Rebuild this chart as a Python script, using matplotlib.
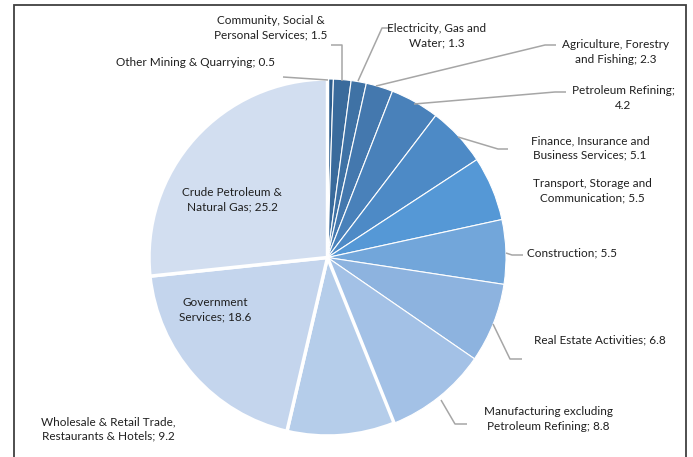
import matplotlib
matplotlib.use("Agg")
import matplotlib.pyplot as plt
from matplotlib.patches import Rectangle
import numpy as np

plt.rcParams["font.family"] = ["Lato", "DejaVu Sans"]

# sectors, clockwise from 12 o'clock
sectors = [
    "Other Mining & Quarrying",
    "Community, Social &\nPersonal Services",
    "Electricity, Gas and\nWater",
    "Agriculture, Forestry\nand Fishing",
    "Petroleum Refining;\n",
    "Finance, Insurance and\nBusiness Services",
    "Transport, Storage and\nCommunication",
    "Construction",
    "Real Estate Activities",
    "Manufacturing excluding\nPetroleum Refining",
    "Wholesale & Retail Trade,\nRestaurants & Hotels",
    "Government\nServices",
    "Crude Petroleum &\nNatural Gas",
]
shares = [0.5, 1.5, 1.3, 2.3, 4.2, 5.1, 5.5, 5.5, 6.8, 8.8, 9.2, 18.6, 25.2]
colors = [
    "#2f5f8f", "#3a6b9c", "#3f72a5", "#4478ae", "#4981ba", "#4d8ac6",
    "#5598d6", "#72a6da", "#8db3df", "#a3c1e6", "#b5cdea", "#c4d5ed",
    "#d2def0",
]

W, H = 693, 457
CX, CY, R = 327.5, H - 257.5, 178.5

# label anchor (px, y from top), alignment, leader path (px) or None
label_pos = [
    (196, 63, "center", [(328, 80), (283, 77)]),
    (271, 28, "center", [(342, 81), (342, 45), (331, 45)]),
    (437, 36, "center", [(358, 81), (382, 28), (392, 28)]),
    (616, 52, "center", [(376, 86), (545, 45), (556, 45)]),
    (623, 98, "center", [(414, 104), (555, 92), (566, 92)]),
    (590, 148, "center", [(458, 137), (498, 149), (508, 149)]),
    (592, 191, "center", None),
    (527, 253, "left", [(506, 253), (512, 255), (523, 255)]),
    (534, 340, "left", [(493, 324), (510, 359), (522, 359)]),
    (548, 419, "center", [(441, 400), (455, 424), (467, 424)]),
    (108, 429, "center", None),
    (215, 310, "center", None),
    (232, 200, "center", None),
]

fig = plt.figure(figsize=(W / 100, H / 100), dpi=100)
ax = fig.add_axes([0, 0, 1, 1])

wedges, _ = ax.pie(
    shares,
    colors=colors,
    startangle=90,
    counterclock=False,
    center=(CX, CY),
    radius=R,
    wedgeprops=dict(edgecolor="white", linewidth=0.8),
    frame=True,
)
ax.set_xlim(0, W)
ax.set_ylim(0, H)
ax.set_aspect("equal")
ax.axis("off")
for w in wedges[10:]:
    w.set_linewidth(2.5)

for name, val, (x, y, ha, path) in zip(sectors, shares, label_pos):
    if name.endswith("\n"):
        text = f"{name}{val}"
    else:
        text = f"{name}; {val}"
    ax.text(x, H - y, text, ha=ha, va="center", fontsize=8.5,
            color="#1f1f1f", linespacing=1.35)
    if path:
        xs = [p[0] for p in path]
        ys = [H - p[1] for p in path]
        ax.plot(xs, ys, color="#a6a6a6", lw=1.1, solid_capstyle="butt")

ax.add_patch(Rectangle((14, -10), 672, H - 5 + 10, fill=False,
                       edgecolor="#404040", lw=1.3, clip_on=False))

fig.savefig("out.png", dpi=100, facecolor="white")
